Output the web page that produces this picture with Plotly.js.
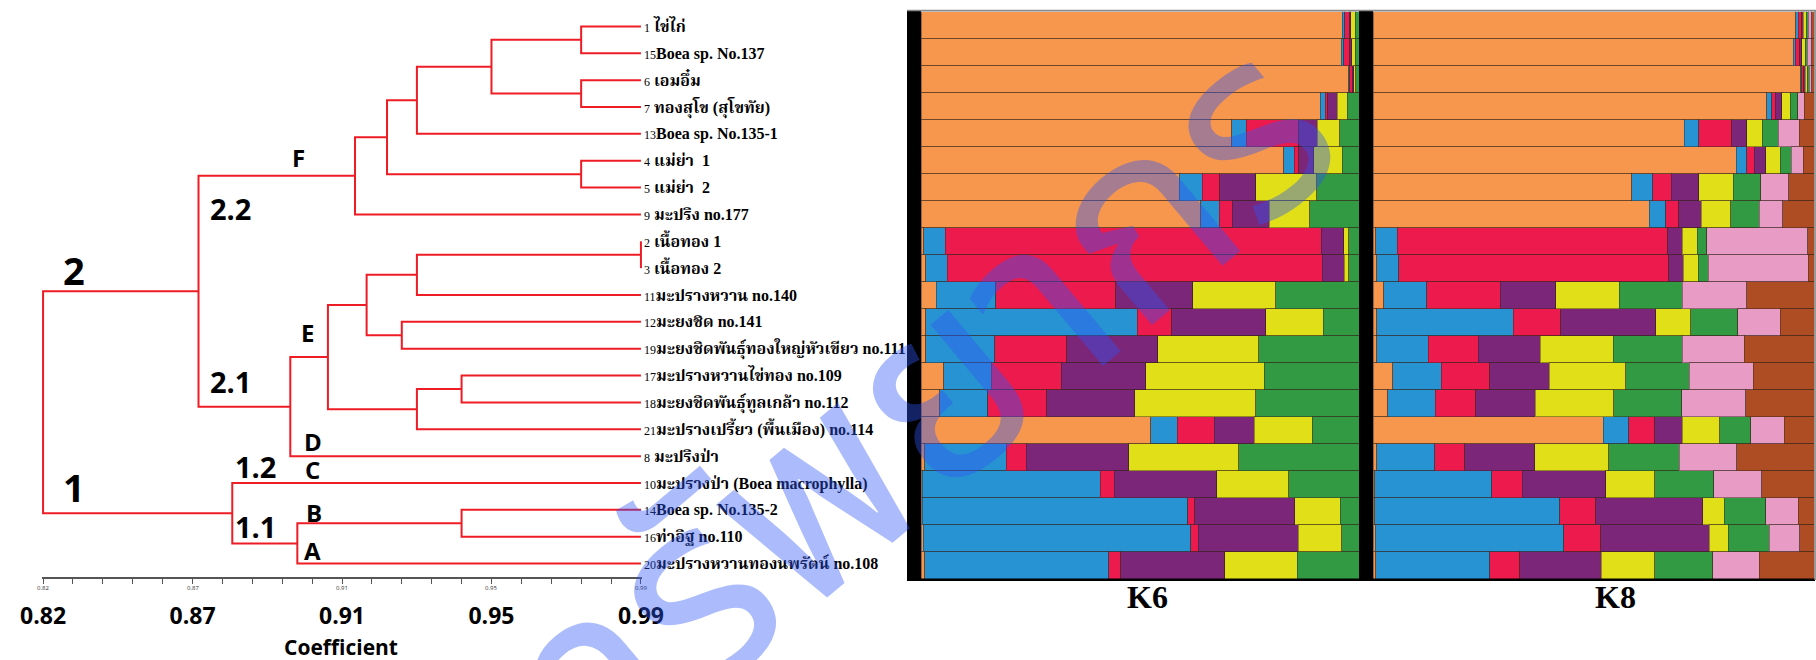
<!DOCTYPE html>
<html><head><meta charset="utf-8">
<script src="https://cdn.plot.ly/plotly-3.0.1.min.js"></script>
<style>html,body{margin:0;padding:0;background:#fff}#chart{width:1816px;height:660px}</style>
</head><body><div id="chart"></div><script>
// ---------- data ----------
const leafIds = ['1','15','6','7','13','4','5','9','2','3','11','12','19','17','18','21','8','10','14','16','20'];
const leafNames = ['ไข่ไก่','Boea sp. No.137','เอมอึ๋ม','ทองสุโข (สุโขทัย)','Boea sp. No.135-1','แม่ย่า  1','แม่ย่า  2','มะปริง no.177','เนื้อทอง 1','เนื้อทอง 2','มะปรางหวาน no.140','มะยงชิด no.141','มะยงชิดพันธุ์ทองใหญ่หัวเขียว no.111','มะปรางหวานไข่ทอง no.109','มะยงชิดพันธุ์ทูลเกล้า no.112','มะปรางเปรี้ยว (พื้นเมือง) no.114','มะปริงป่า','มะปรางป่า (Boea macrophylla)','Boea sp. No.135-2','ท่าอิฐ no.110','มะปรางหวานทองนพรัตน์ no.108'];

// dendrogram merges (L = leaf index, M = earlier merge index)
const mergeA = ['L0','L2','M0','M2','L5','M3','M5','L8','M7','L11','M8','L13','M11','M10','M13','M6','L18','M16','L17','M15'];
const mergeB = ['L1','L3','M1','L4','L6','M4','L7','L9','L10','L12','M9','L14','L15','M12','L16','M14','L19','L20','M17','M18'];
const mergeH = [0.973,0.973,0.9475,0.9263,0.973,0.9178,0.9087,0.99,0.9263,0.922,0.912,0.939,0.9263,0.901,0.8903,0.8642,0.939,0.8923,0.8738,0.82];

const coefTicks = [0.82,0.8625,0.905,0.9475,0.99];
const coefTickText = ['0.82','0.87','0.91','0.95','0.99'];

const clusterLabels = ['2','1','2.2','2.1','F','E','D','1.2','C','B','1.1','A'];

// STRUCTURE K6 membership (row order = leafIds)
const k6Orange = [0.961,0.958,0.977,0.912,0.709,0.828,0.590,0.639,0.006,0.011,0.035,0.011,0.011,0.052,0.043,0.524,0.008,0.003,0.003,0.005,0.008];
const k6Blue   = [0.005,0.006,0.002,0.011,0.034,0.024,0.053,0.042,0.049,0.049,0.136,0.483,0.157,0.109,0.109,0.061,0.187,0.406,0.606,0.612,0.422];
const k6Red    = [0.011,0.014,0.006,0.006,0.119,0.011,0.040,0.030,0.859,0.856,0.274,0.078,0.165,0.160,0.135,0.084,0.045,0.032,0.016,0.017,0.027];
const k6Purple = [0.003,0.005,0.003,0.021,0.043,0.034,0.082,0.084,0.051,0.050,0.176,0.215,0.207,0.193,0.201,0.092,0.234,0.234,0.228,0.228,0.238];
const k6Yellow = [0.011,0.008,0.005,0.023,0.051,0.065,0.140,0.093,0.012,0.011,0.190,0.131,0.231,0.271,0.275,0.132,0.252,0.165,0.104,0.100,0.166];
const k6Green  = [0.008,0.008,0.007,0.027,0.044,0.038,0.096,0.112,0.023,0.023,0.190,0.082,0.229,0.217,0.236,0.107,0.274,0.160,0.043,0.039,0.141];

// STRUCTURE K8 membership
const k8Orange = [0.959,0.953,0.970,0.893,0.706,0.825,0.588,0.626,0.006,0.009,0.024,0.009,0.009,0.045,0.033,0.522,0.008,0.004,0.004,0.005,0.006];
const k8Blue   = [0.005,0.005,0.002,0.011,0.033,0.023,0.048,0.037,0.049,0.049,0.098,0.309,0.116,0.110,0.108,0.058,0.132,0.265,0.420,0.428,0.259];
const k8Red    = [0.008,0.010,0.005,0.008,0.074,0.017,0.042,0.030,0.613,0.613,0.167,0.108,0.113,0.110,0.092,0.059,0.068,0.070,0.081,0.083,0.068];
const k8Purple = [0.004,0.004,0.003,0.015,0.034,0.026,0.062,0.051,0.033,0.033,0.125,0.215,0.141,0.135,0.135,0.062,0.159,0.189,0.243,0.247,0.185];
const k8Yellow = [0.006,0.008,0.005,0.019,0.036,0.033,0.078,0.066,0.034,0.033,0.144,0.079,0.165,0.174,0.178,0.085,0.168,0.112,0.048,0.043,0.121];
const k8Green  = [0.005,0.005,0.004,0.017,0.036,0.025,0.063,0.065,0.021,0.023,0.143,0.107,0.157,0.144,0.154,0.070,0.159,0.134,0.095,0.092,0.131];
const k8Pink   = [0.008,0.010,0.006,0.015,0.047,0.028,0.064,0.053,0.229,0.227,0.146,0.096,0.140,0.145,0.145,0.076,0.131,0.108,0.073,0.070,0.106];
const k8Brown  = [0.005,0.005,0.005,0.022,0.034,0.024,0.057,0.071,0.014,0.013,0.153,0.077,0.158,0.138,0.155,0.068,0.175,0.119,0.036,0.032,0.124];

// ---------- styling ----------
const W = 1816, H = 660;
const px = x => x / W, py = y => 1 - y / H;
const C = {orange:'#F6974D', blue:'#2893D2', red:'#EC1A4D', purple:'#7C2679', yellow:'#E1E018', green:'#339A44', pink:'#E89CC5', brown:'#AE4D24'};
const thaiSerif = '"Liberation Serif", "Noto Serif Thai", "Noto Sans Thai", Garuda, Loma, serif';
const sans = '"Open Sans", "Noto Sans", sans-serif';

// ---------- dendrogram ----------
const pos = {};
leafIds.forEach((id, i) => { pos['L' + i] = {x: 0.99, y: i}; });
const dx = [], dy = [];
mergeA.forEach((a, k) => {
  const A = pos[a], B = pos[mergeB[k]], h = mergeH[k];
  dx.push(A.x, h, h, B.x, null);
  dy.push(A.y, A.y, B.y, B.y, null);
  pos['M' + k] = {x: h, y: (A.y + B.y) / 2};
});
const traces = [{
  type: 'scatter', mode: 'lines', x: dx, y: dy, xaxis: 'x', yaxis: 'y',
  line: {color: '#EE1C24', width: 2}, hoverinfo: 'skip', showlegend: false
}];

// ---------- structure bars ----------
const rows = leafIds.map((_, i) => i);
function addBars(series, colors, xa, ya) {
  const sums = rows.map(i => series.reduce((s, arr) => s + arr[i], 0));
  series.forEach((arr, k) => {
    traces.push({
      type: 'bar', orientation: 'h', x: arr.map((v, i) => v / sums[i]), y: rows, width: 1,
      xaxis: xa, yaxis: ya, marker: {color: colors[k], line: {color: 'rgba(50,35,25,0.45)', width: 1}},
      hoverinfo: 'skip', showlegend: false
    });
  });
}
addBars([k6Orange, k6Blue, k6Red, k6Purple, k6Yellow, k6Green],
        [C.orange, C.blue, C.red, C.purple, C.yellow, C.green], 'x2', 'y2');
addBars([k8Orange, k8Blue, k8Red, k8Purple, k8Yellow, k8Green, k8Pink, k8Brown],
        [C.orange, C.blue, C.red, C.purple, C.yellow, C.green, C.pink, C.brown], 'x3', 'y3');

// ---------- layout ----------
const tickText = leafIds.map((id, i) =>
  '<span style="font-size:12px">' + id + '</span>' + (id.length === 1 ? ' ' : '') + '<b>' + leafNames[i] + '</b>');

const annotations = [];
const lab = (t, x, y, size, fam, color) => annotations.push({
  text: '<b>' + t + '</b>', x: px(x), y: py(y), xref: 'paper', yref: 'paper',
  xanchor: 'center', yanchor: 'middle', showarrow: false, borderpad: 0,
  font: {family: fam || sans, size: size, color: color || '#000'}
});
const clusterPos = [[74,270,38],[74,487,38],[230,208,29],[230,382,29],[298,157,24],[307,332,24],[313,441,24],[255,467,29],[312,469,24],[314,512,24],[255,526,29],[312,550,24]];
clusterLabels.forEach((t, i) => lab(t, clusterPos[i][0], clusterPos[i][1], clusterPos[i][2]));
lab('Coefficient', 341, 647, 21);
lab('K6', 1147, 597, 32, '"Liberation Serif", serif');
lab('K8', 1615, 597, 32, '"Liberation Serif", serif');
coefTickText.forEach((t, i) => annotations.push({
  text: t, x: coefTicks[i], y: py(588), xref: 'x', yref: 'paper', showarrow: false,
  xanchor: 'center', yanchor: 'middle', font: {family: sans, size: 6, color: '#333'}
}));
// watermark
annotations.push({
  text: 'ศูนย์วิทยทรัพยากร', x: px(564), y: py(714), xref: 'paper', yref: 'paper',
  showarrow: false, textangle: -40, xanchor: 'center', yanchor: 'middle',
  font: {family: '"Noto Sans Thai", "Noto Sans", sans-serif', size: 260, color: 'rgba(45,85,245,0.4)'}
});

const shapes = [
  {type:'rect', xref:'paper', yref:'paper', x0:px(907), x1:px(921), y0:py(581), y1:py(11), fillcolor:'#000', line:{width:0}},
  {type:'rect', xref:'paper', yref:'paper', x0:px(1359), x1:px(1373), y0:py(581), y1:py(11), fillcolor:'#000', line:{width:0}},
  {type:'rect', xref:'paper', yref:'paper', x0:px(907), x1:px(1815), y0:py(581), y1:py(578.5), fillcolor:'#000', line:{width:0}},
  {type:'line', xref:'paper', yref:'paper', x0:px(907), x1:px(1816), y0:py(10.5), y1:py(10.5), line:{color:'#8a8a8a', width:1.5}},
  {type:'line', xref:'paper', yref:'paper', x0:px(1815), x1:px(1815), y0:py(11), y1:py(580), line:{color:'#777', width:1.5}}
];

const layout = {
  width: W, height: H, margin: {l:0, r:0, t:0, b:0}, paper_bgcolor: '#fff', plot_bgcolor: 'rgba(0,0,0,0)',
  showlegend: false, barmode: 'stack', bargap: 0, hovermode: false,
  xaxis: {domain: [px(42), px(642)], range: [0.8197, 0.9903], anchor: 'y', showgrid: false, zeroline: false,
    showline: true, linecolor: '#555', linewidth: 1.5, ticks: 'outside', ticklen: 5, tickcolor: '#555', tickwidth: 1,
    tickmode: 'array', tickvals: coefTicks, ticktext: coefTickText.map(t => '<b>' + t + '</b>'),
    tickfont: {family: sans, size: 23, color: '#000'}, ticklabelstandoff: 13,
    minor: {tick0: 0.82, dtick: 0.0085, ticks: 'outside', ticklen: 5, tickcolor: '#555', tickwidth: 1, showgrid: false}},
  yaxis: {domain: [py(577), py(13)], range: [20.5, -0.5], anchor: 'x', side: 'right', showgrid: false, zeroline: false,
    showline: false, ticks: '', tickmode: 'array', tickvals: rows, ticktext: tickText, ticklabelstandoff: 1,
    tickfont: {family: thaiSerif, size: 16, color: '#000'}},
  xaxis2: {domain: [px(921), px(1359)], range: [0, 1], anchor: 'y2', visible: false},
  yaxis2: {domain: [py(579), py(11.5)], range: [20.5, -0.5], anchor: 'x2', visible: false},
  xaxis3: {domain: [px(1373), px(1814)], range: [0, 1], anchor: 'y3', visible: false},
  yaxis3: {domain: [py(579), py(11.5)], range: [20.5, -0.5], anchor: 'x3', visible: false},
  annotations: annotations, shapes: shapes
};

Plotly.newPlot('chart', traces, layout, {staticPlot: true, displayModeBar: false});
</script></body></html>
